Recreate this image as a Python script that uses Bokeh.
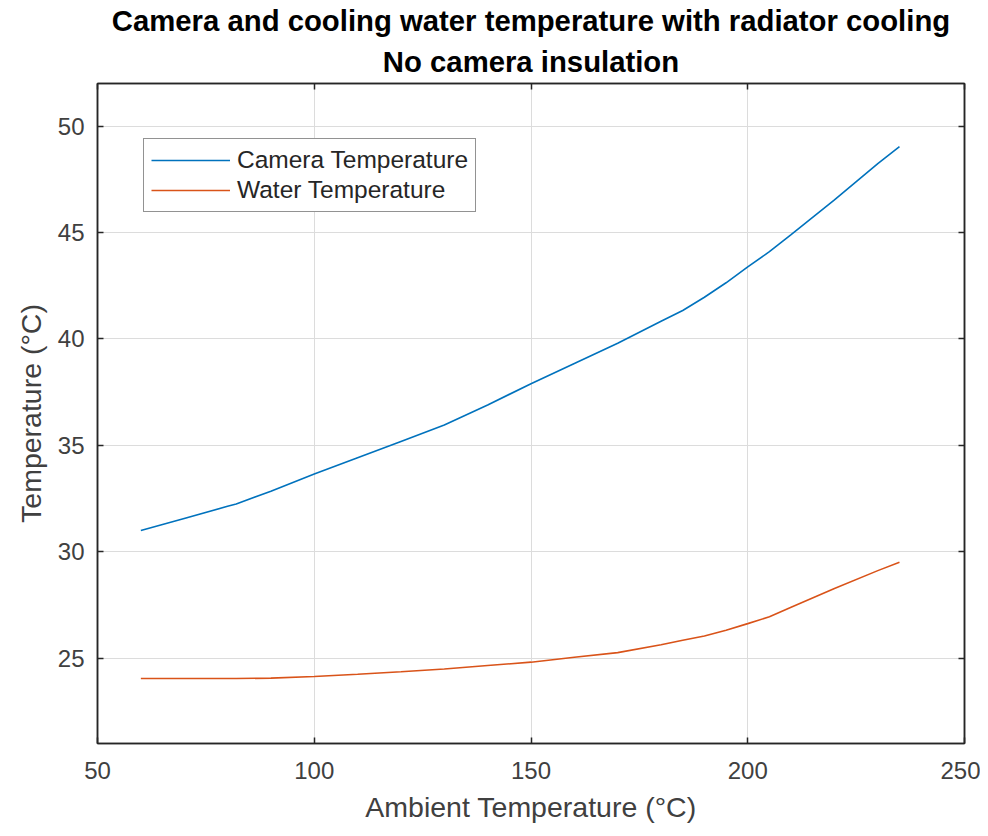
from bokeh.plotting import figure
from bokeh.models import (Range1d, FixedTicker, LinearAxis, Title, Legend, LegendItem)
from bokeh.embed import file_html
from bokeh.resources import INLINE

# ---- data ----
ambient = [60, 70, 80, 82, 90, 100, 110, 120, 130, 140, 150, 160, 170, 180,
           185, 190, 195, 200, 205, 210, 220, 230, 235]
camera_temp = [31.0, 31.57, 32.14, 32.25, 32.85, 33.66, 34.42, 35.19, 35.96,
               36.9, 37.9, 38.85, 39.8, 40.83, 41.34, 41.96, 42.64, 43.39,
               44.1, 44.9, 46.53, 48.24, 49.03]
water_temp = [24.05, 24.05, 24.05, 24.05, 24.07, 24.15, 24.25, 24.37, 24.5,
              24.66, 24.82, 25.05, 25.27, 25.64, 25.85, 26.05, 26.32, 26.63,
              26.95, 27.4, 28.28, 29.12, 29.51]
x_ticks = [50, 100, 150, 200, 250]
y_ticks = [25, 30, 35, 40, 45, 50]
title_line1 = "Camera and cooling water temperature with radiator cooling"
title_line2 = "No camera insulation"
x_label = "Ambient Temperature (°C)"
y_label = "Temperature (°C)"
series_names = ["Camera Temperature", "Water Temperature"]

FONT = "Liberation Sans"
AX = "#262626"
TXT = "#404040"

p = figure(width=980, height=828, output_backend="svg", toolbar_location=None,
           x_range=Range1d(50, 250), y_range=Range1d(21, 52), title=None,
           min_border_left=97, min_border_right=16, min_border_top=83,
           min_border_bottom=85, background_fill_color="white",
           border_fill_color="white")

p.outline_line_color = AX
p.outline_line_width = 1.5
p.outline_line_alpha = 1.0

for ax in (p.xaxis[0], p.yaxis[0]):
    ax.major_tick_in = 6
    ax.major_tick_out = 0
    ax.minor_tick_in = 0
    ax.minor_tick_out = 0
    ax.axis_line_color = AX
    ax.axis_line_width = 1.5
    ax.major_tick_line_color = AX
    ax.major_tick_line_width = 1.5
    ax.major_label_text_font = FONT
    ax.major_label_text_font_size = "24px"
    ax.major_label_text_color = TXT
    ax.axis_label_text_font = FONT
    ax.axis_label_text_font_size = "28.5px"
    ax.axis_label_text_color = TXT
    ax.axis_label_text_font_style = "normal"

p.xaxis[0].ticker = FixedTicker(ticks=x_ticks)
p.yaxis[0].ticker = FixedTicker(ticks=y_ticks)
p.xaxis[0].axis_label = x_label
p.yaxis[0].axis_label = y_label
p.xaxis[0].major_label_standoff = 18
p.xaxis[0].axis_label_standoff = 9
p.yaxis[0].major_label_standoff = 13
p.yaxis[0].axis_label_standoff = 8

# mirrored ticks (top / right), no labels
for loc, ticks in (("above", x_ticks), ("right", y_ticks)):
    a = LinearAxis(ticker=FixedTicker(ticks=ticks))
    a.major_tick_in = 6
    a.major_tick_out = 0
    a.minor_tick_in = 0
    a.minor_tick_out = 0
    a.major_label_text_font_size = "0px"
    a.major_label_text_alpha = 0
    a.major_label_standoff = 0
    a.axis_line_color = AX
    a.axis_line_width = 1.5
    a.major_tick_line_color = AX
    a.major_tick_line_width = 1.5
    p.add_layout(a, loc)

p.xgrid.ticker = FixedTicker(ticks=x_ticks)
p.ygrid.ticker = FixedTicker(ticks=y_ticks)
p.xgrid.grid_line_color = "#dcdcdc"
p.ygrid.grid_line_color = "#dcdcdc"
p.xgrid.grid_line_width = 1
p.ygrid.grid_line_width = 1

r1 = p.line(ambient, camera_temp, line_color="#0072BD", line_width=1.6)
r2 = p.line(ambient, water_temp, line_color="#D95319", line_width=1.6)

legend = Legend(items=[LegendItem(label=series_names[0], renderers=[r1]),
                       LegendItem(label=series_names[1], renderers=[r2])],
                location=(46, 531))
legend.label_text_font = FONT
legend.label_text_font_size = "24.5px"
legend.label_text_color = AX
legend.glyph_width = 79
legend.glyph_height = 28
legend.label_height = 28
legend.label_standoff = 7
legend.spacing = 2
legend.padding = 7
legend.margin = 0
legend.border_line_color = AX
legend.border_line_width = 1.5
legend.background_fill_color = "white"
legend.background_fill_alpha = 1
p.add_layout(legend, "center")

t2 = Title(text=title_line2, align="center", text_font=FONT,
           text_font_size="29.3px", text_font_style="bold", text_color="black",
           standoff=12)
t1 = Title(text=title_line1, align="center", text_font=FONT,
           text_font_size="29.3px", text_font_style="bold", text_color="black",
           standoff=0)
p.add_layout(t2, "above")
p.add_layout(t1, "above")

open("out.html", "w").write(file_html(p, INLINE))
